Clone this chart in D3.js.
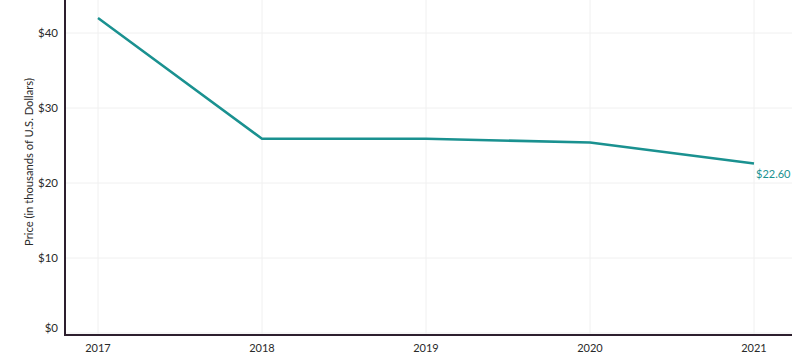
<!DOCTYPE html>
<html><head><meta charset="utf-8">
<script src="https://cdn.jsdelivr.net/npm/d3@7"></script>
<style>body{margin:0;background:#fff}svg{display:block}text{font-family:Lato,"Open Sans",sans-serif}</style>
</head><body><svg id="c" width="800" height="354"></svg>
<script>
const years = ["2017","2018","2019","2020","2021"];
const prices = [42.0, 25.9, 25.9, 25.4, 22.6];
const yTicks = [0,10,20,30,40];
const lastLabel = "$22.60";
const yTitle = "Price (in thousands of U.S. Dollars)";

const svg = d3.select("#c");
const x = d3.scalePoint().domain(years).range([98,754]);
const y = d3.scaleLinear().domain([0,40]).range([333,33]);
const left = 65, right = 792, bottom = 335;

// gridlines
svg.append("g").selectAll("line").data(yTicks).join("line")
  .attr("x1",left).attr("x2",right).attr("y1",d=>y(d)).attr("y2",d=>y(d))
  .attr("stroke","#f0f0f0").attr("stroke-width",1);
svg.append("g").selectAll("line").data(years).join("line")
  .attr("x1",d=>x(d)).attr("x2",d=>x(d)).attr("y1",0).attr("y2",bottom)
  .attr("stroke","#f0f0f0").attr("stroke-width",1);

// y tick labels
svg.append("g").selectAll("text").data(yTicks).join("text")
  .attr("x",58).attr("y",d=>d===0? y(d)-5 : y(d)).attr("dy","0.35em")
  .attr("text-anchor","end").attr("font-size",11.5).attr("fill","#2a2a2a")
  .text(d=>"$"+d);
// x tick labels
svg.append("g").selectAll("text").data(years).join("text")
  .attr("x",d=>x(d)).attr("y",348).attr("dy","0.35em")
  .attr("text-anchor","middle").attr("font-size",11).attr("fill","#2a2a2a")
  .text(d=>d);

// axes
svg.append("line").attr("x1",left).attr("x2",left).attr("y1",0).attr("y2",bottom+1)
  .attr("stroke","#2d1f2e").attr("stroke-width",2);
svg.append("line").attr("x1",left-1).attr("x2",right).attr("y1",bottom).attr("y2",bottom)
  .attr("stroke","#2d1f2e").attr("stroke-width",2);

// y title
svg.append("text").attr("transform",`translate(33,162) rotate(-90)`)
  .attr("text-anchor","middle").attr("font-size",11.2).attr("fill","#2a2a2a").text(yTitle);

// line
const line = d3.line().x((d,i)=>x(years[i])).y(d=>y(d));
svg.append("path").datum(prices).attr("d",line).attr("fill","none")
  .attr("stroke","#1a9190").attr("stroke-width",2.5).attr("stroke-linejoin","round");

// end label
svg.append("text").attr("x",x(years[4])+2).attr("y",y(prices[4])+11).attr("dy","0.35em")
  .attr("font-size",11).attr("fill","#1a9190").text(lastLabel);
</script></body></html>
